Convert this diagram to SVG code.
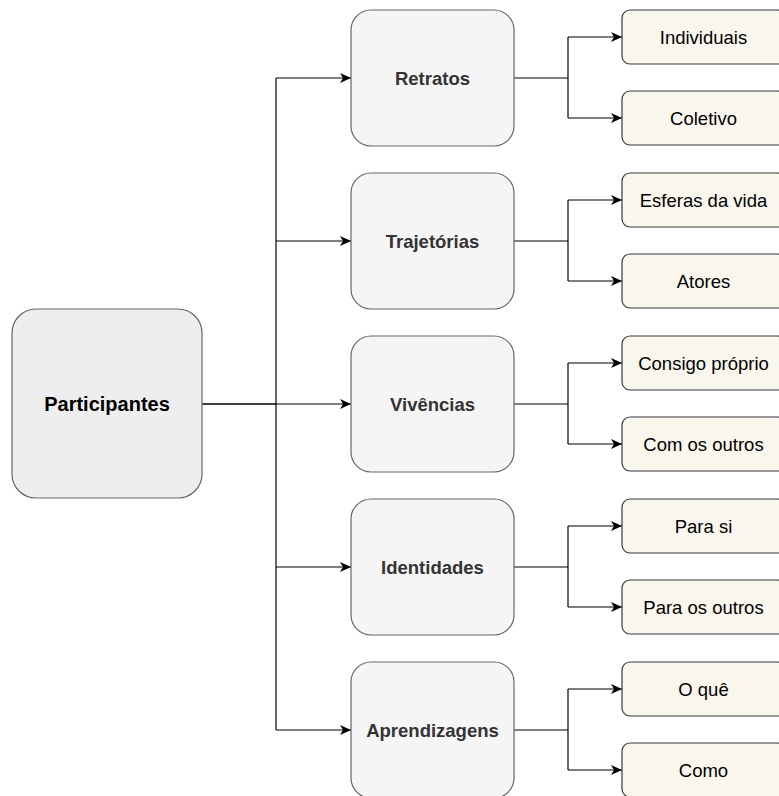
<svg xmlns="http://www.w3.org/2000/svg" width="779" height="796" viewBox="0 0 779 796">
<style>
.root{fill:#eeeeee;stroke:#666666;stroke-width:1.2}
.mid{fill:#f5f5f5;stroke:#666666;stroke-width:1.2}
.leaf{fill:#f9f7ed;stroke:#36393d;stroke-width:1.2}
.t{font-family:"Liberation Sans",Arial,Helvetica,sans-serif;text-anchor:middle}
.tr{font-size:20px;font-weight:bold;fill:#000}
.tm{font-size:18.5px;font-weight:bold;fill:#333333}
.tl{font-size:18.5px;fill:#000}
.c{fill:none;stroke:#000;stroke-width:1.2}
</style>
<defs>
<marker id="arr" viewBox="0 0 11 10" refX="11" refY="5" markerWidth="11" markerHeight="10" markerUnits="userSpaceOnUse" orient="auto">
<path d="M0,0 L11,5 L0,10 L3,5 Z" fill="#000"/>
</marker>
</defs>
<g id="connectors">
<path class="c" d="M202,404 H276"/>
<path class="c" d="M276,78 V730"/>
<path class="c" d="M276,78 H351" marker-end="url(#arr)"/>
<path class="c" d="M276,241 H351" marker-end="url(#arr)"/>
<path class="c" d="M202,404 H351" marker-end="url(#arr)"/>
<path class="c" d="M276,567 H351" marker-end="url(#arr)"/>
<path class="c" d="M276,730 H351" marker-end="url(#arr)"/>
<path class="c" d="M514,78 H568"/>
<path class="c" d="M568,37 V118"/>
<path class="c" d="M568,37 H622" marker-end="url(#arr)"/>
<path class="c" d="M568,118 H622" marker-end="url(#arr)"/>
<path class="c" d="M514,241 H568"/>
<path class="c" d="M568,200 V281"/>
<path class="c" d="M568,200 H622" marker-end="url(#arr)"/>
<path class="c" d="M568,281 H622" marker-end="url(#arr)"/>
<path class="c" d="M514,404 H568"/>
<path class="c" d="M568,363 V444"/>
<path class="c" d="M568,363 H622" marker-end="url(#arr)"/>
<path class="c" d="M568,444 H622" marker-end="url(#arr)"/>
<path class="c" d="M514,567 H568"/>
<path class="c" d="M568,526 V607"/>
<path class="c" d="M568,526 H622" marker-end="url(#arr)"/>
<path class="c" d="M568,607 H622" marker-end="url(#arr)"/>
<path class="c" d="M514,730 H568"/>
<path class="c" d="M568,689 V770"/>
<path class="c" d="M568,689 H622" marker-end="url(#arr)"/>
<path class="c" d="M568,770 H622" marker-end="url(#arr)"/>
</g>
<g id="participantes"><rect class="root" x="12" y="309" width="190" height="189" rx="24"/><text class="t tr" x="107" y="411">Participantes</text></g>
<g id="retratos"><rect class="mid" x="351" y="10" width="163" height="136" rx="20"/><text class="t tm" x="432.5" y="84.5">Retratos</text></g>
<g id="trajetorias"><rect class="mid" x="351" y="173" width="163" height="136" rx="20"/><text class="t tm" x="432.5" y="247.5">Trajetórias</text></g>
<g id="vivencias"><rect class="mid" x="351" y="336" width="163" height="136" rx="20"/><text class="t tm" x="432.5" y="410.5">Vivências</text></g>
<g id="identidades"><rect class="mid" x="351" y="499" width="163" height="136" rx="20"/><text class="t tm" x="432.5" y="573.5">Identidades</text></g>
<g id="aprendizagens"><rect class="mid" x="351" y="662" width="163" height="136" rx="20"/><text class="t tm" x="432.5" y="736.5">Aprendizagens</text></g>
<g id="individuais"><rect class="leaf" x="622" y="10" width="163" height="54" rx="8"/><text class="t tl" x="703.5" y="43.5">Individuais</text></g>
<g id="coletivo"><rect class="leaf" x="622" y="91" width="163" height="54" rx="8"/><text class="t tl" x="703.5" y="124.5">Coletivo</text></g>
<g id="esferas"><rect class="leaf" x="622" y="173" width="163" height="54" rx="8"/><text class="t tl" x="703.5" y="206.5">Esferas da vida</text></g>
<g id="atores"><rect class="leaf" x="622" y="254" width="163" height="54" rx="8"/><text class="t tl" x="703.5" y="287.5">Atores</text></g>
<g id="consigo"><rect class="leaf" x="622" y="336" width="163" height="54" rx="8"/><text class="t tl" x="703.5" y="369.5">Consigo próprio</text></g>
<g id="comoutros"><rect class="leaf" x="622" y="417" width="163" height="54" rx="8"/><text class="t tl" x="703.5" y="450.5">Com os outros</text></g>
<g id="parasi"><rect class="leaf" x="622" y="499" width="163" height="54" rx="8"/><text class="t tl" x="703.5" y="532.5">Para si</text></g>
<g id="paraoutros"><rect class="leaf" x="622" y="580" width="163" height="54" rx="8"/><text class="t tl" x="703.5" y="613.5">Para os outros</text></g>
<g id="oque"><rect class="leaf" x="622" y="662" width="163" height="54" rx="8"/><text class="t tl" x="703.5" y="695.5">O quê</text></g>
<g id="como"><rect class="leaf" x="622" y="743" width="163" height="54" rx="8"/><text class="t tl" x="703.5" y="776.5">Como</text></g>
</svg>
